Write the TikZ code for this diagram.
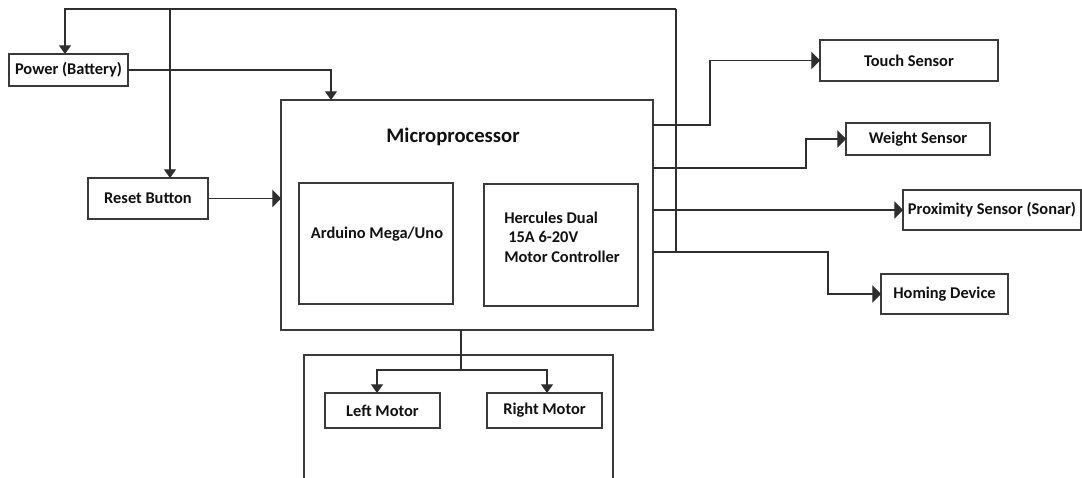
\documentclass[tikz,border=0pt]{standalone}
\usepackage{fontspec}
\setmainfont{Carlito}
\usetikzlibrary{arrows.meta}
\definecolor{ln}{HTML}{2E2E2E}
\definecolor{bx}{HTML}{3A3A3A}
\definecolor{tx}{HTML}{111111}
\begin{document}
\begin{tikzpicture}[x=0.75pt,y=-0.75pt,
  box/.style={draw=bx,line width=1.1pt,inner sep=0pt,outer sep=0pt,fill=white,
    font=\fontsize{12.3}{14}\selectfont\bfseries,text=tx},
  wire/.style={draw=ln,line width=0.9pt},
  varr/.style={wire,-{Triangle[length=6.5pt,width=9pt]}},
  harr/.style={wire,-{Triangle[length=6.5pt,width=13pt]}},
  lbl/.style={font=\fontsize{12.3}{14.5}\selectfont\bfseries,text=tx,inner sep=0pt}]
\useasboundingbox (0,0) rectangle (1082,478);
% boxes
\node[box,minimum width=89.25pt,minimum height=24pt] (power) at (68.5,70) {Power (Battery)};
\node[box,minimum width=90pt,minimum height=30.75pt] (reset) at (148,198.5) {Reset Button};
\node[box,minimum width=279pt,minimum height=172.5pt] (mp) at (467,215) {};
\node[font=\fontsize{15.5}{18}\selectfont\bfseries,text=tx,inner sep=0pt] (mptitle) at (453,137) {Microprocessor};
\node[box,minimum width=115.5pt,minimum height=90.75pt] (ard) at (376,243.5) {};
\node[lbl] (ardtext) at (377,234) {Arduino Mega/Uno};
\node[box,minimum width=115.5pt,minimum height=91.5pt] (herc) at (561,245) {};
\node[lbl,align=left,anchor=west] (herctext) at (504,237) {Hercules Dual\\\hspace{3pt}15A 6-20V\\Motor Controller};
\node[box,minimum width=133.5pt,minimum height=30.75pt] (touch) at (909,60.5) {Touch Sensor};
\node[box,minimum width=108pt,minimum height=24pt] (weight) at (918,139) {Weight Sensor};
\node[box,minimum width=133.5pt,minimum height=30pt] (prox) at (992,210) {Proximity Sensor (Sonar)};
\node[box,minimum width=95.25pt,minimum height=30pt] (homing) at (944.5,294) {Homing Device};
\node[box,minimum width=86.25pt,minimum height=26.25pt] (left) at (382.5,410.5) {Left Motor};
\node[box,minimum width=86.25pt,minimum height=26.25pt] (right) at (544.5,410.5) {Right Motor};
% open motor enclosure
\draw[draw=bx,line width=1.1pt] (304,480) -- (304,355) -- (613,355) -- (613,480);
% coordinates
\coordinate (t1) at (65,9);
\coordinate (t2) at (170,9);
\coordinate (t3) at (676,9);
\coordinate (t4) at (676,252);
\coordinate (pin) at (331,100);
\coordinate (tb) at (710,125);
\coordinate (wb) at (806,168);
\coordinate (hb) at (828,252);
\coordinate (mb) at (461,330);
\coordinate (mj) at (461,370);
\coordinate (ml) at (377,393);
\coordinate (mr) at (547,393);
% top bus
\draw[varr] (t3) -- (t1) -- (t1 |- power.north);
\draw[varr] (t2) -- (t2 |- reset.north);
\draw[wire] (t3) -- (t4);
% inputs
\draw[varr] (power.east) -| (pin);
\draw[harr] (reset.east) -- (reset.east -| mp.west);
% outputs
\draw[harr] (mp.east |- tb) -- (tb) |- (touch.west);
\draw[harr] (mp.east |- wb) -- (wb) |- (weight.west);
\draw[harr] (mp.east |- prox.west) -- (prox.west);
\draw[harr] (mp.east |- hb) -- (hb) |- (homing.west);
% motors
\draw[wire] (mb) -- (mj);
\draw[varr] (mj) -| (ml);
\draw[varr] (mj) -| (mr);
\end{tikzpicture}
\end{document}
